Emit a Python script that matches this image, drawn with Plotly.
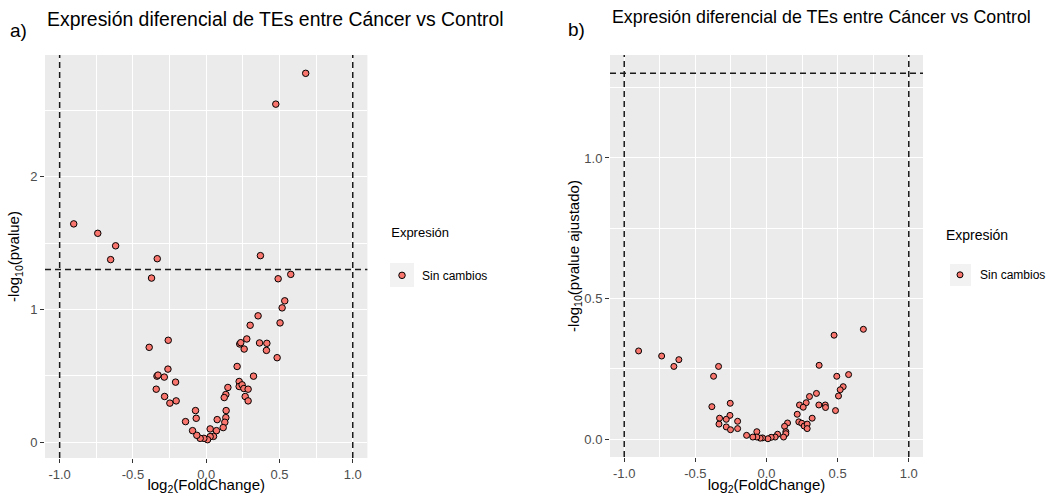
import math
import plotly.graph_objects as go

W, H = 1047, 495

# ---------------- data ----------------
# panel a: log2 fold change vs -log10(pvalue)
a_logfc = [-0.904, -0.740, -0.618, -0.652, -0.334, -0.373, 0.370, 0.491, 0.577, 0.536,
           0.518, 0.354, 0.504, 0.300, 0.277, 0.229, 0.236, 0.259, 0.364, 0.414,
           0.411, 0.484, -0.259, -0.389, 0.211, -0.261, -0.336, -0.329, -0.286, 0.323,
           -0.209, -0.341, -0.284, -0.248, -0.205, 0.225, 0.225, 0.245, 0.257, 0.286,
           0.266, 0.286, 0.148, 0.134, 0.123, 0.136, 0.134, 0.127, 0.116, 0.075,
           0.070, 0.027, 0.050, 0.027, 0.009, -0.016, -0.041, -0.064, -0.093, -0.073,
           -0.068, -0.141, 0.679, 0.475]
a_neglogp = [1.644, 1.573, 1.479, 1.375, 1.382, 1.236, 1.405, 1.231, 1.264, 1.065,
             1.012, 0.952, 0.899, 0.881, 0.778, 0.740, 0.750, 0.702, 0.748, 0.745,
             0.692, 0.637, 0.768, 0.715, 0.571, 0.551, 0.498, 0.506, 0.491, 0.498,
             0.453, 0.400, 0.345, 0.295, 0.312, 0.458, 0.420, 0.433, 0.405, 0.400,
             0.345, 0.312, 0.413, 0.360, 0.337, 0.239, 0.186, 0.151, 0.111, 0.171,
             0.088, 0.101, 0.045, 0.043, 0.020, 0.030, 0.030, 0.053, 0.088, 0.239,
             0.181, 0.156, 2.777, 2.545]

# panel b: log2 fold change vs -log10(adjusted pvalue)
b_logfc = [-0.899, -0.737, -0.616, -0.651, -0.337, -0.372, 0.681, 0.475, 0.370, 0.494,
           0.577, 0.539, 0.518, 0.506, 0.351, 0.302, 0.279, 0.232, 0.258, 0.368,
           0.413, 0.415, 0.485, 0.321, 0.216, 0.227, 0.248, 0.265, 0.286, 0.286,
           0.148, 0.127, 0.136, 0.136, 0.120, 0.078, 0.061, 0.033, 0.010, -0.028,
           -0.044, -0.068, -0.068, -0.096, -0.140, -0.384, -0.255, -0.330, -0.334, -0.257,
           -0.283, -0.283, -0.253, -0.203, -0.203]
b_neglogpadj = [0.314, 0.296, 0.283, 0.259, 0.259, 0.224, 0.391, 0.370, 0.263, 0.224,
                0.230, 0.187, 0.176, 0.154, 0.163, 0.152, 0.130, 0.122, 0.114, 0.122,
                0.122, 0.113, 0.102, 0.075, 0.089, 0.062, 0.057, 0.047, 0.054, 0.038,
                0.058, 0.046, 0.027, 0.020, 0.008, 0.018, 0.008, 0.007, 0.002, 0.005,
                0.004, 0.027, 0.008, 0.008, 0.014, 0.116, 0.128, 0.075, 0.054, 0.085,
                0.071, 0.044, 0.034, 0.064, 0.038]

fc_cut = 1.0
p_cut = -math.log10(0.05)

x_ticks = [-1.0, -0.5, 0.0, 0.5, 1.0]
x_ticktext = ["-1.0", "-0.5", "0.0", "0.5", "1.0"]
a_y_ticks = [0, 1, 2]
a_y_ticktext = ["0", "1", "2"]
b_y_ticks = [0.0, 0.5, 1.0]
b_y_ticktext = ["0.0", "0.5", "1.0"]

title_text = "Expresión diferencial de TEs entre Cáncer vs Control"
legend_title = "Expresión"
group_name = "Sin cambios"

# ---------------- styling ----------------
FONT = "Liberation Sans, Arial, Helvetica, sans-serif"
PT_COL = "#F8766D"
GRID_MAJ = 1.3
GRID_MIN = 0.6
NB = "\u00a0"


def expand(lo, hi, f=0.05):
    d = hi - lo
    return [lo - f * d, hi + f * d]


# ggplot-like continuous scale expansion (5 %) over data + reference lines
a_xr = expand(min(min(a_logfc), -fc_cut), max(max(a_logfc), fc_cut))
a_yr = expand(min(a_neglogp), max(a_neglogp))
b_xr = expand(min(min(b_logfc), -fc_cut), max(max(b_logfc), fc_cut))
b_yr = expand(min(b_neglogpadj), max(max(b_neglogpadj), p_cut))


def minor_vals(ticks):
    return [(ticks[i] + ticks[i + 1]) / 2 for i in range(len(ticks) - 1)] + \
           [ticks[0] - (ticks[1] - ticks[0]) / 2, ticks[-1] + (ticks[1] - ticks[0]) / 2]


def xaxis_cfg(domain, rng, anchor):
    return dict(domain=domain, range=rng, anchor=anchor,
                tickvals=x_ticks, ticktext=x_ticktext,
                showgrid=True, gridcolor="white", gridwidth=GRID_MAJ,
                minor=dict(tickvals=minor_vals(x_ticks), showgrid=True,
                           gridcolor="white", gridwidth=GRID_MIN, ticks=""),
                zeroline=False, showline=False,
                ticks="outside", ticklen=4, tickwidth=1, tickcolor="#333333",
                tickfont=dict(family=FONT, size=13, color="#4D4D4D"),
                title=dict(text="log<sub>2</sub>(FoldChange)",
                           font=dict(family=FONT, size=15, color="#000000"),
                           standoff=6))


def yaxis_cfg(domain, rng, anchor, tv, tt, title, standoff):
    return dict(domain=domain, range=rng, anchor=anchor,
                tickvals=tv, ticktext=tt,
                showgrid=True, gridcolor="white", gridwidth=GRID_MAJ,
                minor=dict(tickvals=minor_vals(tv), showgrid=True,
                           gridcolor="white", gridwidth=GRID_MIN, ticks=""),
                zeroline=False, showline=False,
                ticks="outside", ticklen=4, tickwidth=1, tickcolor="#333333",
                tickfont=dict(family=FONT, size=13, color="#4D4D4D"),
                title=dict(text=title,
                           font=dict(family=FONT, size=15, color="#000000"),
                           standoff=standoff))


def legend_title_html(size, pad):
    return f'<span style="font-size:{size}px">{NB * pad}{legend_title}</span><br> '


fig = go.Figure()
fig.add_trace(go.Scatter(
    x=a_logfc, y=a_neglogp, mode="markers", name=group_name,
    xaxis="x", yaxis="y", legend="legend",
    marker=dict(color=PT_COL, size=6.5, line=dict(color="#000000", width=1))))
fig.add_trace(go.Scatter(
    x=b_logfc, y=b_neglogpadj, mode="markers", name=group_name,
    xaxis="x2", yaxis="y2", legend="legend2",
    marker=dict(color=PT_COL, size=6, line=dict(color="#000000", width=1))))

a_xdom = [45 / W, 367.4 / W]
a_ydom = [1 - 458 / H, 1 - 55 / H]
b_xdom = [610 / W, 923 / W]
b_ydom = [1 - 457 / H, 1 - 55 / H]

dash = dict(color="#1a1a1a", width=1.5, dash="6px,4px")
shapes = []
for v in (-fc_cut, fc_cut):
    shapes.append(dict(type="line", xref="x", yref="y domain", x0=v, x1=v, y0=0, y1=1, line=dash))
    shapes.append(dict(type="line", xref="x2", yref="y2 domain", x0=v, x1=v, y0=0, y1=1, line=dash))
shapes.append(dict(type="line", xref="x domain", yref="y", x0=0, x1=1, y0=p_cut, y1=p_cut, line=dash))
shapes.append(dict(type="line", xref="x2 domain", yref="y2", x0=0, x1=1, y0=p_cut, y1=p_cut, line=dash))
# legend key backgrounds
shapes.append(dict(type="rect", xref="paper", yref="paper", x0=390 / W, x1=414 / W,
                   y0=1 - 287 / H, y1=1 - 263 / H, fillcolor="#F2F2F2", line=dict(width=0), layer="below"))
shapes.append(dict(type="rect", xref="paper", yref="paper", x0=950 / W, x1=971 / W,
                   y0=1 - 286 / H, y1=1 - 264 / H, fillcolor="#F2F2F2", line=dict(width=0), layer="below"))

annotations = [
    dict(text=title_text, xref="paper", yref="paper", x=45 / W, y=1 - 19 / H,
         xanchor="left", yanchor="middle", showarrow=False,
         font=dict(family=FONT, size=19.4, color="#000000")),
    dict(text="a)", xref="paper", yref="paper", x=8 / W, y=1 - 31 / H,
         xanchor="left", yanchor="middle", showarrow=False,
         font=dict(family=FONT, size=19, color="#000000")),
    dict(text=title_text, xref="paper", yref="paper", x=610 / W, y=1 - 17 / H,
         xanchor="left", yanchor="middle", showarrow=False,
         font=dict(family=FONT, size=17.8, color="#000000")),
    dict(text="b)", xref="paper", yref="paper", x=566 / W, y=1 - 30 / H,
         xanchor="left", yanchor="middle", showarrow=False,
         font=dict(family=FONT, size=19, color="#000000")),
]

fig.update_layout(
    width=W, height=H, margin=dict(l=0, r=0, t=0, b=0, autoexpand=False),
    paper_bgcolor="white", plot_bgcolor="#EBEBEB",
    xaxis=xaxis_cfg(a_xdom, a_xr, "y"),
    yaxis=yaxis_cfg(a_ydom, a_yr, "x", a_y_ticks, a_y_ticktext,
                    "-log<sub>10</sub>(pvalue)", 6),
    xaxis2=xaxis_cfg(b_xdom, b_xr, "y2"),
    yaxis2=yaxis_cfg(b_ydom, b_yr, "x2", b_y_ticks, b_y_ticktext,
                     "-log<sub>10</sub>(pvalue ajustado)", 0),
    shapes=shapes, annotations=annotations,
    showlegend=True,
    legend=dict(x=382 / W, y=1 - 213 / H, xanchor="left", yanchor="top",
                bgcolor="rgba(0,0,0,0)",
                title=dict(text=legend_title_html(13, 2),
                           font=dict(family=FONT, size=18.4, color="#000000")),
                font=dict(family=FONT, size=12, color="#000000"),
                itemsizing="trace"),
    legend2=dict(x=940 / W, y=1 - 220 / H, xanchor="left", yanchor="top",
                 bgcolor="rgba(0,0,0,0)",
                 title=dict(text=legend_title_html(14, 1),
                            font=dict(family=FONT, size=15.5, color="#000000")),
                 font=dict(family=FONT, size=12, color="#000000"),
                 itemsizing="trace"),
)

fig.write_html("out.html")
